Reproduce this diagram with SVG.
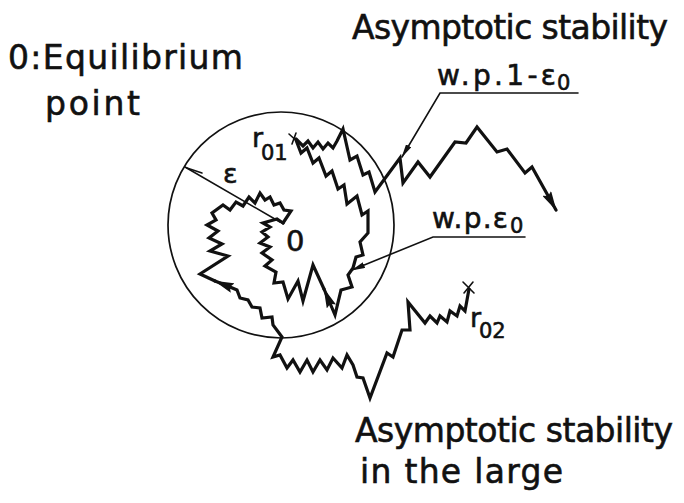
<svg xmlns="http://www.w3.org/2000/svg" width="684" height="503" viewBox="0 0 684 503">
<style>
  .t { font-family: "DejaVu Sans", "Liberation Sans", sans-serif; fill: #111; stroke: #111; stroke-width: 0.6; }
  .traj { fill: none; stroke: #111; stroke-width: 3.2; stroke-linejoin: miter; stroke-linecap: round; }
  .thin { fill: none; stroke: #111; stroke-width: 1.6; stroke-linecap: round; }
</style>
<defs>
  <marker id="ah" markerUnits="userSpaceOnUse" viewBox="0 0 20 10" markerWidth="20" markerHeight="10" refX="19" refY="5" orient="auto">
    <path d="M0,0 L20,5 L0,10 L3,5 z" fill="#111"/>
  </marker>
  <marker id="ahs" markerUnits="userSpaceOnUse" viewBox="0 0 14 6" markerWidth="14" markerHeight="6" refX="13" refY="3" orient="auto">
    <path d="M0,0 L14,3 L0,6 z" fill="#111"/>
  </marker>
</defs>
<rect width="684" height="503" fill="#fff"/>

<g id="region-circle">
  <circle cx="281" cy="225" r="113" fill="none" stroke="#111" stroke-width="1.7"/>
  <line x1="185" y1="167" x2="280" y2="222" class="thin"/>
  <line x1="187" y1="168" x2="202" y2="173" class="thin"/>
</g>

<g id="connectors">
  <!-- escaping path from r01 -->
  <path class="traj" marker-end="url(#ah)" d="M296,139 L303,146 308,141 313,148 318,142 323,149 328,143 333,148 337,141 343,129 L350,160 357,156 363,175 369,172 375,192 L400,158 403,183 418,162 430,177 455,142 466,143 477,127 497,152 507,149 525,173 532,167 556,210"/>
  <!-- inner path from r01 -->
  <path class="traj" marker-end="url(#ah)" d="M296,140 L301,153 307,148 313,163 319,158 326,176 332,171 338,189 344,185 347,204 357,196 362,215 368,211 368,233 360,242 363,255 356,257 353,268 348,275 352,287 341,290 335,315 L324,289"/>
  <path class="traj" d="M324,289 L313,265 303,301 298,281 288,299 283,282 274,283 276,272 265,266 272,260 262,253 270,247 260,243 268,237 262,232 270,227 263,223 277,219 283,223"/>
  <!-- path from r02 -->
  <path class="traj" marker-end="url(#ah)" d="M469,289 L465,311 460,306 457,316 450,311 447,322 440,316 437,323 430,316 425,323 408,302 410,330 402,330 393,357 387,353 370,398 L363,378 357,377 353,365 347,355 342,368 333,358 327,370 320,360 313,372 307,360 300,372 293,360 287,368 280,355 273,357 282,337 273,325 272,317 262,318 260,308 252,307 248,300 240,298 237,290 230,287 215,281"/>
  <path class="traj" d="M215,281 L200,274 228,256 210,251 222,244 209,238 218,231 207,225 216,220 212,213 223,205 230,210 236,202 243,206 249,197 255,203 260,193 265,200 270,197 274,205 280,203 284,210 291,211 283,223"/>
  <!-- start marks -->
  <path class="thin" d="M289,134 L300,144 M296,133 L292,144"/>
  <path class="thin" d="M463,282 L474,293 M473,282 L464,293"/>
  <!-- leaders -->
  <path class="thin" marker-end="url(#ahs)" d="M578,93 L440,93 L402,157"/>
  <path class="thin" marker-end="url(#ahs)" d="M525,237 L433,237 L352,270"/>
</g>

<g id="label-top">
  <text class="t" x="352" y="39" font-size="33" textLength="316">Asymptotic stability</text>
</g>
<g id="label-equilibrium">
  <text class="t" x="8" y="69" font-size="33" textLength="235">0:Equilibrium</text>
  <text class="t" x="45" y="115" font-size="33" textLength="95">point</text>
</g>
<g id="label-wp1">
  <text class="t" x="437" y="85" font-size="28" textLength="119">w.p.1-ε</text>
  <text class="t" x="557" y="90" font-size="21">0</text>
</g>
<g id="label-wp0">
  <text class="t" x="432" y="228" font-size="28" textLength="76">w.p.ε</text>
  <text class="t" x="510" y="233" font-size="21">0</text>
</g>
<g id="label-r01">
  <text class="t" x="252" y="147" font-size="27">r</text>
  <text class="t" x="261" y="160" font-size="21">01</text>
</g>
<g id="label-r02">
  <text class="t" x="470" y="327" font-size="27">r</text>
  <text class="t" x="479" y="338" font-size="21">02</text>
</g>
<g id="label-eps">
  <text class="t" x="223" y="183" font-size="27">ε</text>
</g>
<g id="label-origin">
  <text class="t" x="286" y="251" font-size="29">0</text>
</g>
<g id="label-bottom">
  <text class="t" x="355" y="442" font-size="33" textLength="318">Asymptotic stability</text>
  <text class="t" x="360" y="483" font-size="33" textLength="203">in the large</text>
</g>
</svg>
